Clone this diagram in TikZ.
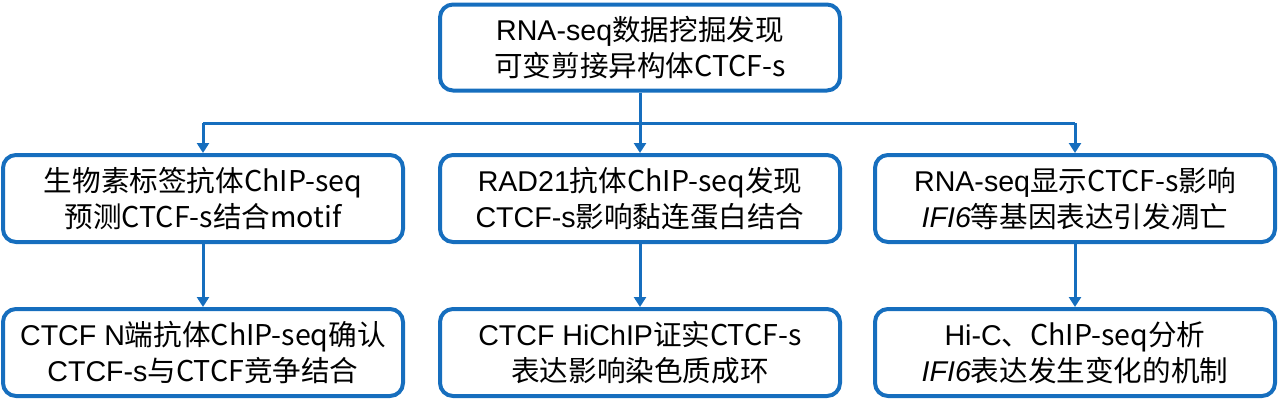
\documentclass[tikz,border=0pt]{standalone}
\usepackage{fontspec}
\setmainfont{Liberation Sans}
\newfontfamily\cjk{Noto Sans CJK SC}
\usepackage{xcolor}
\usepackage{tikz}
\usetikzlibrary{arrows.meta}

\definecolor{boxblue}{RGB}{22,110,190}

\begin{document}
\begin{tikzpicture}[x=0.5pt,y=-0.5pt,
		box/.style={draw=boxblue, line width=2pt, rounded corners=6.5pt, minimum width=200pt, minimum height=43.5pt, align=center, inner sep=0pt, font=\fontsize{14.3}{18}\selectfont},
		link/.style={draw=boxblue, line width=1.5pt},
		arr/.style={link, -{Triangle[width=6pt,length=5pt]}}]
		\useasboundingbox (0,0) rectangle (1280,407);

		\node[box, minimum height=43pt] (find) at (640,47.5) {RNA-seq\cjk{数据挖掘发现}\\\cjk{可变剪接异构体}CTCF-s};

		\node[box] (bio) at (203,198.5) {\cjk{生物素标签抗体}ChIP-seq\\\cjk{预测}CTCF-s\cjk{结合}motif};
		\node[box] (rad) at (640,198.5) {RAD21\cjk{抗体}ChIP-seq\cjk{发现}\\CTCF-s\cjk{影响黏连蛋白结合}};
		\node[box] (expr) at (1075,198.5) {RNA-seq\cjk{显示}CTCF-s\cjk{影响}\\\textit{IFI6}\cjk{等基因表达引发凋亡}};

		\node[box] (nterm) at (203,352.5) {CTCF N\cjk{端抗体}ChIP-seq\cjk{确认}\\CTCF-s\cjk{与}CTCF\cjk{竞争结合}};
		\node[box] (hichip) at (640,352.5) {CTCF HiChIP\cjk{证实}CTCF-s\\\cjk{表达影响染色质成环}};
		\node[box] (hic) at (1075,352.5) {Hi-C\cjk{、}ChIP-seq\cjk{分析}\\\textit{IFI6}\cjk{表达发生变化的机制}};

		\coordinate (split) at (640,123);
		\draw[arr] (find.south) -- (rad.north);
		\draw[link] (bio.north |- split) -- (expr.north |- split);
		\draw[arr] (bio.north |- split) -- (bio.north);
		\draw[arr] (expr.north |- split) -- (expr.north);

		\draw[arr] (bio.south) -- (nterm.north);
		\draw[arr] (rad.south) -- (hichip.north);
		\draw[arr] (expr.south) -- (hic.north);
	\end{tikzpicture}
\end{document}
